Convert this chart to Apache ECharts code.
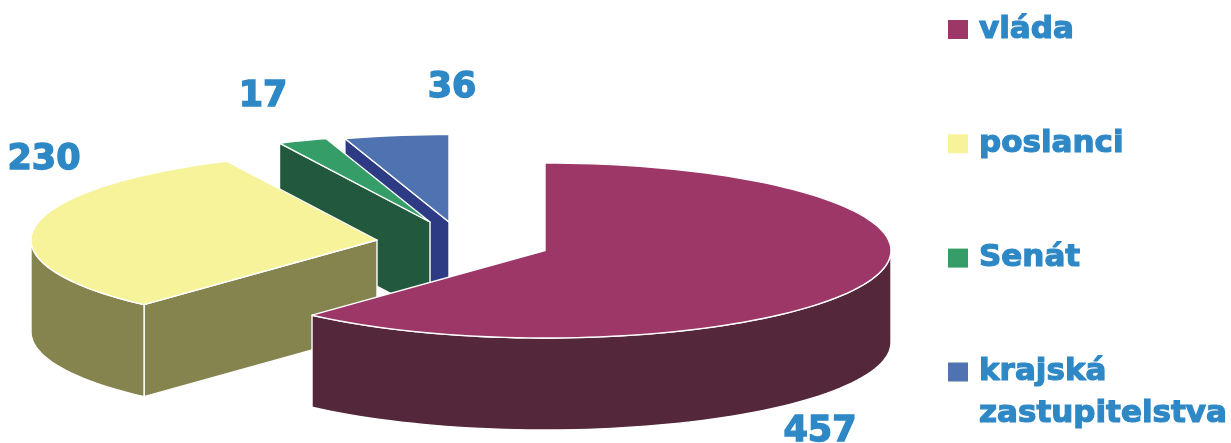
<!DOCTYPE html>
<html>
<head>
<meta charset="utf-8">
<title>Podíl předkladatelů návrhů</title>
<script src="https://cdn.jsdelivr.net/npm/echarts@6/dist/echarts.min.js"></script>
<style>html,body{margin:0;padding:0;background:#fff}#chart{width:1231px;height:443px}</style>
</head>
<body>
<div id="chart"></div>
<script>
// Source values
const categories = ['vláda', 'poslanci', 'Senát', 'krajská zastupitelstva'];
const values = [457, 230, 17, 36];

// Appearance of each wedge
const topColors = ['#9c3768', '#f7f39a', '#359e68', '#4e73b0'];
const wallColors = ['#54273b', '#85834e', '#22583b', '#2c3b83'];
const centers = [[545, 250.5], [377, 240], [430, 222], [449, 222]];
const labelPoints = [[820, 432], [44, 160], [263, 96.5], [452, 88]];
const stacking = [4, 3, 2, 1];

// Shared projection of the tilted pie
const RX = 346, RY = 87.5, DEPTH = 92, TEXT = '#2e88c6';
const FONT = '"DejaVu Sans", sans-serif';
const total = values.reduce((a, b) => a + b, 0);
const rim = (c, deg, drop) => {
  const r = deg * Math.PI / 180;
  return [c[0] + RX * Math.sin(r), c[1] - RY * Math.cos(r) + (drop || 0)];
};
const arc = (c, from, to, drop) => {
  const pts = [];
  const n = Math.max(2, Math.ceil(Math.abs(to - from) / 2));
  for (let i = 0; i <= n; i++) pts.push(rim(c, from + (to - from) * i / n, drop));
  return pts;
};
const face = (points, fill, z2) => ({
  type: 'polygon', z2: z2,
  shape: { points: points },
  style: { fill: fill, stroke: '#fff', lineWidth: 1.4, lineJoin: 'round' }
});

function wedgeRenderer(index) {
  return function (params, api) {
    const value = api.value(0);
    const before = values.slice(0, index).reduce((a, b) => a + b, 0);
    const start = before / total * 360;
    const end = start + value / total * 360;
    const c = centers[index];
    const children = [];

    // The radial side faces the viewer only when the wedge opens to its right
    if (start > 180) {
      const a = rim(c, start);
      children.push(face([a, c, [c[0], c[1] + DEPTH], [a[0], a[1] + DEPTH]], wallColors[index], 1));
    }
    // Outer wall: only the part of the rim on the near half of the ellipse
    const wallFrom = Math.max(start, 90), wallTo = Math.min(end, 270);
    if (wallTo > wallFrom) {
      const upper = arc(c, wallFrom, wallTo);
      const lower = arc(c, wallFrom, wallTo, DEPTH).reverse();
      children.push(face(upper.concat(lower), wallColors[index], 2));
    }
    // Top surface
    children.push(face([c].concat(arc(c, start, end)), topColors[index], 3));
    // Value label
    children.push({
      type: 'text', z2: 5,
      style: {
        x: labelPoints[index][0], y: labelPoints[index][1],
        text: String(value), fill: TEXT, stroke: TEXT, lineWidth: 1.4,
        font: 'bold 35px ' + FONT, align: 'center', verticalAlign: 'middle'
      }
    });
    return { type: 'group', children: children };
  };
}

// Shared legend look; the long entry sits in its own block so its name can wrap
const legendText = {
  color: TEXT, fontFamily: FONT, fontWeight: 'bold', fontSize: 31,
  lineHeight: 40, padding: [0, 0, 0, 6],
  textBorderColor: TEXT, textBorderWidth: 1.2
};
const legendBase = {
  orient: 'vertical',
  left: 948,
  padding: 0,
  itemWidth: 20,
  itemHeight: 19,
  itemGap: 74.3,
  icon: 'rect',
  selectedMode: false,
  textStyle: legendText
};

const chart = echarts.init(document.getElementById('chart'), null, { renderer: 'canvas' });
chart.setOption({
  animation: false,
  backgroundColor: '#fff',
  legend: [
    Object.assign({}, legendBase, { top: 9.5, data: categories.slice(0, 3) }),
    Object.assign({}, legendBase, {
      top: 309,
      data: categories.slice(3),
      textStyle: Object.assign({}, legendText, { lineHeight: 42 }),
      formatter: () => '\nkrajská\nzastupitelstva'
    })
  ],
  series: categories.map((name, i) => ({
    type: 'custom',
    name: name,
    coordinateSystem: 'none',
    z: stacking[i],
    silent: true,
    itemStyle: { color: topColors[i] },
    data: [[values[i]]],
    renderItem: wedgeRenderer(i)
  }))
});
</script>
</body>
</html>
